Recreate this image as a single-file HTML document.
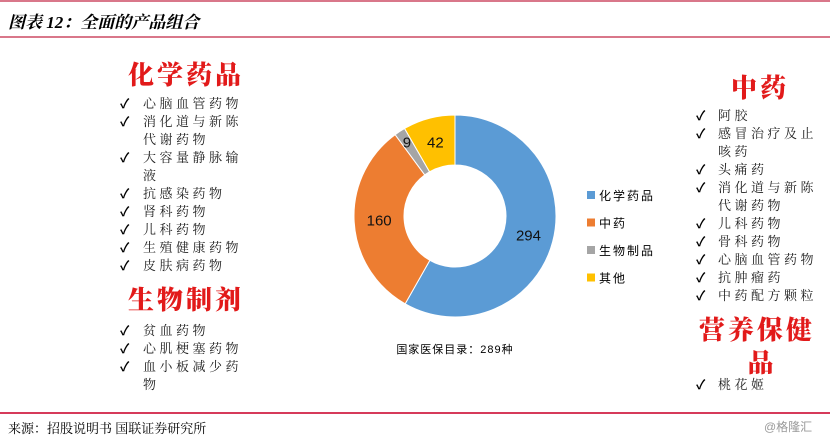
<!DOCTYPE html>
<html><head><meta charset="utf-8"><style>
body{margin:0;width:830px;height:438px;background:#fff;position:relative;overflow:hidden;font-family:"Liberation Sans","Noto Sans CJK SC",sans-serif;}
.abs{position:absolute;white-space:nowrap;}
.hl{position:absolute;left:0;width:830px;height:2px;background:#d9778a;}
.item{position:absolute;font-size:13px;letter-spacing:3.5px;color:#222;line-height:18px;font-family:"Liberation Serif","Noto Serif CJK SC",serif;}
.ck{position:absolute;font-size:13px;font-weight:bold;color:#000;line-height:18px;}
.ttl{position:absolute;font-size:26px;font-weight:900;color:#e21a1a;letter-spacing:3px;font-family:"Liberation Serif","Noto Serif CJK SC",serif;line-height:28px;}
</style></head><body>
<div class="hl" style="top:0"></div>
<div class="abs" style="left:8px;top:8px;font-size:17px;font-style:italic;font-weight:bold;font-family:'Liberation Serif','Noto Serif CJK SC',serif;">图表 12：全面的产品组合</div>
<div class="hl" style="top:36px"></div>

<div id="lists"></div>

<svg id="chart" width="830" height="438" style="position:absolute;left:0;top:0"></svg>

<div class="hl" style="top:412px;background:#d63a5a"></div>
<div class="abs" style="left:8px;top:418px;font-size:13px;font-family:'Liberation Serif','Noto Serif CJK SC',serif;">来源：招股说明书 国联证券研究所</div>
<div class="abs" style="left:764px;top:418px;font-size:12px;color:#999;">@格隆汇</div>

<script>
const categories=["化学药品","中药","生物制品","其他"];
const values=[294,160,9,42];
const colors=["#5b9bd5","#ed7d31","#a5a5a5","#ffc000"];
const caption="国家医保目录：289种";

const NS="http://www.w3.org/2000/svg";
const svg=document.getElementById('chart');
const cx=455,cy=216,R=101,r=51;
const total=values.reduce((a,b)=>a+b,0);
function pt(a,rad){return [cx+rad*Math.sin(a),cy-rad*Math.cos(a)];}
let ang=0;
values.forEach((v,i)=>{
  const a0=ang,a1=ang+v/total*2*Math.PI;ang=a1;
  const large=(a1-a0)>Math.PI?1:0;
  const [x0,y0]=pt(a0,R),[x1,y1]=pt(a1,R),[x2,y2]=pt(a1,r),[x3,y3]=pt(a0,r);
  const p=document.createElementNS(NS,'path');
  p.setAttribute('d',`M${x0},${y0}A${R},${R} 0 ${large} 1 ${x1},${y1}L${x2},${y2}A${r},${r} 0 ${large} 0 ${x3},${y3}Z`);
  p.setAttribute('fill',colors[i]);p.setAttribute('stroke','#fff');p.setAttribute('stroke-width','1');
  
  
  svg.appendChild(p);
  const mid=(a0+a1)/2;
  const lr=i===2?(R+r)/2+12:(R+r)/2;
  const [lx,ly]=pt(mid,lr);
  const t=document.createElementNS(NS,'text');
  t.setAttribute('x',lx);t.setAttribute('y',ly+5);t.setAttribute('text-anchor','middle');
  t.setAttribute('font-size','15');t.setAttribute('font-family','Liberation Sans, sans-serif');t.setAttribute('fill','#111');
  t.textContent=v;
  
  
  svg.appendChild(t);
});
categories.forEach((c,i)=>{
  const y=196+i*27.5;
  const s=document.createElementNS(NS,'rect');
  s.setAttribute('x',587);s.setAttribute('y',y-5);s.setAttribute('width',8);s.setAttribute('height',8);s.setAttribute('fill',colors[i]);
  
  
  svg.appendChild(s);
  const t=document.createElementNS(NS,'text');
  t.setAttribute('x',599);t.setAttribute('y',y+4);t.setAttribute('font-size','12');
  t.setAttribute('font-family','Liberation Sans, Noto Sans CJK SC, sans-serif');t.setAttribute('letter-spacing','2');
  t.textContent=c;
  
  
  svg.appendChild(t);
});
const cap=document.createElementNS(NS,'text');
cap.setAttribute('x',455);cap.setAttribute('y',353);cap.setAttribute('text-anchor','middle');cap.setAttribute('font-size','11');
cap.setAttribute('font-family','Liberation Sans, Noto Sans CJK SC, sans-serif');cap.setAttribute('letter-spacing','1');
cap.textContent=caption;


svg.appendChild(cap);

const lists=document.getElementById('lists');
function title(txt,cxp,y){
  const d=document.createElement('div');d.className='ttl';d.textContent=txt;
  d.style.left=(cxp-200)+'px';d.style.width='400px';d.style.textAlign='center';d.style.top=(y-14)+'px';
  
  
  lists.appendChild(d);
}
function items(arr,ckx,tx,y0){
  arr.forEach((it,i)=>{
    const y=y0+i*18-9;
    if(it[1]){const c=document.createElement('div');c.className='ck';c.textContent='✓';c.style.left=ckx+'px';c.style.top=y+'px';
      
      
      lists.appendChild(c);}
    const d=document.createElement('div');d.className='item';d.textContent=it[0];d.style.left=tx+'px';d.style.top=y+'px';
    
    
    lists.appendChild(d);
  });
}
title('化学药品',186,76);
items([["心脑血管药物",1],["消化道与新陈",1],["代谢药物",0],["大容量静脉输",1],["液",0],["抗感染药物",1],["肾科药物",1],["儿科药物",1],["生殖健康药物",1],["皮肤病药物",1]],120,143,104);
title('生物制剂',186,301);
items([["贫血药物",1],["心肌梗塞药物",1],["血小板减少药",1],["物",0]],120,143,331);
title('中药',760,89);
items([["阿胶",1],["感冒治疗及止",1],["咳药",0],["头痛药",1],["消化道与新陈",1],["代谢药物",0],["儿科药物",1],["骨科药物",1],["心脑血管药物",1],["抗肿瘤药",1],["中药配方颗粒",1]],696,718,116);
title('营养保健',757,331);
title('品',762,364);
items([["桃花姬",1]],696,718,385);
</script>
</body></html>
